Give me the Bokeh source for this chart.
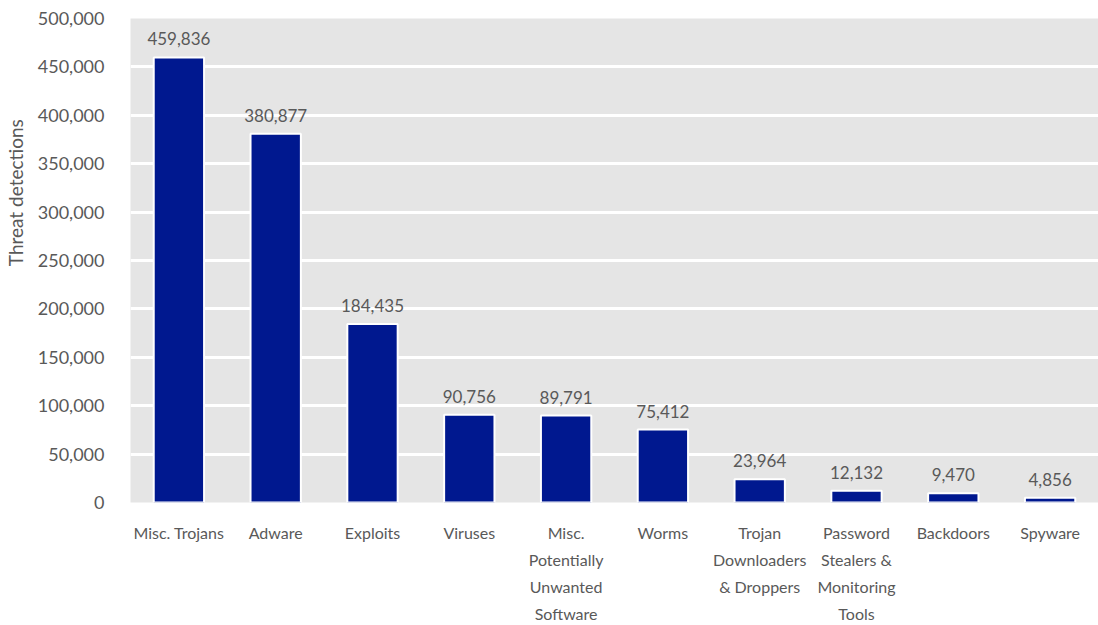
from bokeh.plotting import figure
from bokeh.models import (ColumnDataSource, SingleIntervalTicker, NumeralTickFormatter, LabelSet,
                          CategoricalAxis, CustomJSTickFormatter)
from bokeh.core.properties import value
from bokeh.embed import file_html
from bokeh.resources import INLINE

categories = ["Misc. Trojans", "Adware", "Exploits", "Viruses",
              "Misc. Potentially Unwanted Software", "Worms",
              "Trojan Downloaders & Droppers", "Password Stealers & Monitoring Tools",
              "Backdoors", "Spyware"]
label_lines = [["Misc. Trojans"], ["Adware"], ["Exploits"], ["Viruses"],
               ["Misc.", "Potentially", "Unwanted", "Software"], ["Worms"],
               ["Trojan", "Downloaders", "& Droppers"], ["Password", "Stealers &", "Monitoring", "Tools"],
               ["Backdoors"], ["Spyware"]]
values = [459836, 380877, 184435, 90756, 89791, 75412, 23964, 12132, 9470, 4856]
labels = [f"{v:,}" for v in values]

FONT = "Lato"
TXT = "#595959"

src = ColumnDataSource(dict(cat=categories, val=values, lab=labels))

p = figure(x_range=categories, y_range=(0, 500000), width=1098, height=625,
           output_backend="svg", toolbar_location=None, x_axis_location=None,
           min_border_left=128, min_border_right=0, min_border_top=18, min_border_bottom=122)
p.background_fill_color = "#e5e5e5"
p.border_fill_color = "white"
p.outline_line_color = None

p.vbar(x="cat", top="val", width=0.52, source=src, fill_color="#00188F",
       line_color="white", line_width=2)

p.add_layout(LabelSet(x="cat", y="val", text="lab", source=src, text_align="center",
                      text_baseline="alphabetic", y_offset=12, text_font=value(FONT),
                      text_font_size="17px", text_color=TXT))

# category labels, one axis per text line
for k in range(4):
    line_k = [(ls[k] if k < len(ls) else "") for ls in label_lines]
    ax = CategoricalAxis()
    ax.formatter = CustomJSTickFormatter(
        args=dict(cats=categories, lines=line_k),
        code="const i = cats.indexOf(tick); return i >= 0 ? lines[i] : '';")
    ax.axis_line_color = None
    ax.major_tick_line_color = None
    ax.minor_tick_line_color = None
    ax.major_tick_in = 0
    ax.major_tick_out = 0
    ax.major_label_text_font = FONT
    ax.major_label_text_font_size = "16px"
    ax.major_label_text_color = TXT
    ax.major_label_standoff = 20 if k == 0 else 5
    p.add_layout(ax, "below")

pad = "\u00a0" * 28
p.yaxis.ticker = SingleIntervalTicker(interval=50000)
p.yaxis.formatter = NumeralTickFormatter(format="0,0")
p.yaxis.axis_label = pad + "Threat detections"
p.yaxis.axis_label_text_font = FONT
p.yaxis.axis_label_text_font_style = "normal"
p.yaxis.axis_label_text_font_size = "19px"
p.yaxis.axis_label_text_color = TXT
p.yaxis.axis_label_standoff = 8
p.yaxis.major_label_standoff = 20
p.yaxis.axis_line_color = None
p.yaxis.major_tick_line_color = None
p.yaxis.minor_tick_line_color = None
p.yaxis.major_label_text_font = FONT
p.yaxis.major_label_text_font_size = "18px"
p.yaxis.major_label_text_color = TXT

p.xgrid.grid_line_color = None
p.ygrid.grid_line_color = "white"
p.ygrid.grid_line_width = 3

open("out.html", "w").write(file_html(p, INLINE))
